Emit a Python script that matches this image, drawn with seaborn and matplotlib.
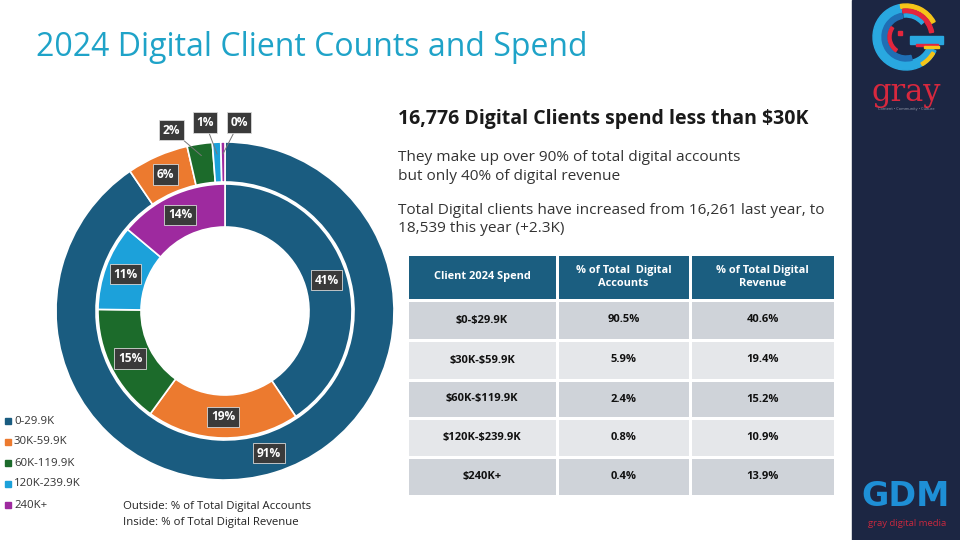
import math
import matplotlib
matplotlib.use("Agg")
import matplotlib.pyplot as plt
from matplotlib.patches import Rectangle, Wedge
from matplotlib.colors import ListedColormap
import seaborn as sns

# ---------------- data ----------------
categories = ["0-29.9K", "30K-59.9K", "60K-119.9K", "120K-239.9K", "240K+"]
spend_labels = ["$0-$29.9K", "$30K-$59.9K", "$60K-$119.9K", "$120K-$239.9K", "$240K+"]
accounts_pct = [90.5, 5.9, 2.4, 0.8, 0.4]
revenue_pct = [40.6, 19.4, 15.2, 10.9, 13.9]
table_headers = ["Client 2024 Spend", "% of Total  Digital\nAccounts", "% of Total Digital\nRevenue"]

title_text = "2024 Digital Client Counts and Spend"
heading_text = "16,776 Digital Clients spend less than $30K"
body_lines = ["They make up over 90% of total digital accounts",
              "but only 40% of digital revenue",
              "Total Digital clients have increased from 16,261 last year, to",
              "18,539 this year (+2.3K)"]
caption_lines = ["Outside: % of Total Digital Accounts", "Inside: % of Total Digital Revenue"]

colors = ["#1A5C80", "#EC7A2F", "#1C6B2B", "#1CA1DA", "#9E2A9F"]

sns.set_theme(style="white")
plt.rcParams['font.family'] = ['Open Sans', 'DejaVu Sans']
plt.rcParams['text.parse_math'] = False

W, H = 960, 540
fig = plt.figure(figsize=(9.6, 5.4), dpi=100)
fig.patch.set_facecolor("white")


def fx(px):
    return px / W


def fy(py):
    return 1 - py / H


def rnd(v):
    return f"{math.floor(v + 0.5)}%"


# ---------------- donut ----------------
cx, cy, R = 225, 311, 169
half = 235
ax = fig.add_axes([fx(cx - half), fy(cy + half), 2 * half / W, 2 * half / H])
ax.pie(accounts_pct, radius=1.0, colors=colors, startangle=90, counterclock=False,
       wedgeprops=dict(width=40 / R, edgecolor="white", linewidth=1.2))
ax.pie(revenue_pct, radius=127 / R, colors=colors, startangle=90, counterclock=False,
       wedgeprops=dict(width=43 / R, edgecolor="white", linewidth=1.2))
lim = half / R
ax.set_xlim(-lim, lim)
ax.set_ylim(-lim, lim)
ax.set_aspect("equal")
ax.axis("off")

box = dict(boxstyle="square,pad=0.3", fc="#3A3A3A", ec="#d8d8d8", lw=0.6)
lab_kw = dict(color="white", fontsize=8.6, fontweight="bold", ha="center", va="center",
              bbox=box, zorder=5)


def mids(vals):
    tot = sum(vals)
    out, cum = [], 0.0
    for v in vals:
        out.append(math.radians(90 - 360 * (cum + v / 2) / tot))
        cum += v
    return out


# inner ring labels
for v, a in zip(revenue_pct, mids(revenue_pct)):
    r = 106 / R
    ax.text(r * math.cos(a), r * math.sin(a), rnd(v), **lab_kw)

# outer ring labels (small slices get leader lines)
small_pos = {2: (-0.315, 1.07), 3: (-0.118, 1.115), 4: (0.083, 1.115)}
for i, (v, a) in enumerate(zip(accounts_pct, mids(accounts_pct))):
    if i in small_pos:
        ra = 0.93
        ax.annotate(rnd(v), xy=(ra * math.cos(a), ra * math.sin(a)), xytext=small_pos[i],
                    arrowprops=dict(arrowstyle="-", color="#777777", lw=0.7,
                                    shrinkA=0, shrinkB=0), **lab_kw)
    else:
        r = 149 / R
        ax.text(r * math.cos(a), r * math.sin(a), rnd(v), **lab_kw)

# legend
for i, (c, name) in enumerate(zip(colors, categories)):
    y = 421 + i * 21
    fig.patches.append(Rectangle((fx(5), fy(y + 3)), 6 / W, 6 / H, transform=fig.transFigure,
                                 color=c, figure=fig))
    fig.text(fx(14), fy(y), name, fontsize=8.2, color="#333333", va="center")

for i, line in enumerate(caption_lines):
    fig.text(fx(123), fy(507 + i * 15), line, fontsize=8.2, color="#222222", va="center")

# ---------------- texts ----------------
fig.text(fx(36), fy(48), title_text, color="#1FA3C8", fontsize=23, va="center")
fig.text(fx(398), fy(119), heading_text, color="#1A1A1A", fontsize=14,
         fontweight="bold", va="center")
for y, line in zip([158, 176, 210, 228], body_lines):
    fig.text(fx(398), fy(y), line, color="#333333", fontsize=11.1, va="center")

# ---------------- table ----------------
xe = [407, 557, 690, 835]
ye = [254, 300, 340, 380, 418, 457, 496]
tax = fig.add_axes([fx(xe[0]), fy(ye[-1]), (xe[-1] - xe[0]) / W, (ye[-1] - ye[0]) / H])
nrows = len(spend_labels) + 1
codes = [[0] * 3] + [[1 + (r % 2)] * 3 for r in range(len(spend_labels))]
tax.pcolormesh(xe, ye, codes, cmap=ListedColormap(["#1B5E80", "#CFD3D9", "#E5E7EA"]),
               vmin=-0.5, vmax=2.5, edgecolors="white", linewidth=2)
tax.set_xlim(xe[0], xe[-1])
tax.set_ylim(ye[-1], ye[0])
tax.axis("off")
cxs = [(xe[j] + xe[j + 1]) / 2 for j in range(3)]
cys = [(ye[k] + ye[k + 1]) / 2 for k in range(nrows)]
for j, h in enumerate(table_headers):
    tax.text(cxs[j], cys[0], h, color="white", fontsize=7.9, fontweight="bold",
             ha="center", va="center", linespacing=1.25)
for k in range(len(spend_labels)):
    row = [spend_labels[k], f"{accounts_pct[k]}%", f"{revenue_pct[k]}%"]
    for j, s in enumerate(row):
        tax.text(cxs[j], cys[k + 1], s, color="#111111", fontsize=8, fontweight="bold",
                 ha="center", va="center")

# ---------------- side panel ----------------
fig.patches.append(Rectangle((fx(852), 0), 1 - fx(852), 1, transform=fig.transFigure,
                             color="#1C2643", figure=fig, zorder=-1))
lax = fig.add_axes([fx(852), fy(130), 108 / W, 130 / H])
lax.set_xlim(852, 960)
lax.set_ylim(130, 0)
lax.set_aspect("equal")
lax.axis("off")
gx, gy = 906, 37
# (radius, width, visual start angle, visual end angle, colour)
for r, w, t1, t2, c in [(33, 9, 100, 335, "#29A8E0"), (33, 4, 28, 100, "#F5C518"),
                        (28, 4, 10, 97, "#E3263D"), (24, 5, 100, 285, "#1F6FB5"),
                        (18, 3, 145, 235, "#E3263D"), (23, 3, 40, 95, "#29A8E0"),
                        (33, 3, 300, 330, "#F5C518")]:
    lax.add_patch(Wedge((gx, gy), r, -t2, -t1, width=w, color=c))
lax.add_patch(Rectangle((gx + 4, gy - 1), 33, 8, color="#29A8E0"))
lax.add_patch(Rectangle((gx + 10, gy + 7), 22, 2, color="#E3263D"))
lax.add_patch(Rectangle((gx + 18, gy + 9), 15, 2, color="#F5C518"))
lax.add_patch(Rectangle((gx - 8, gy - 6), 4, 4, color="#E3263D"))
lax.text(gx, 92, "gray", color="#D7283E", fontsize=22, family="DejaVu Serif",
         ha="center", va="center")
lax.text(gx, 109, "Content • Community • Culture", color="#9aa0b0", fontsize=2.8,
         ha="center", va="center")
fig.text(fx(906), fy(497), "GDM", color="#1E8FD6", fontsize=24, fontweight="bold",
         ha="center", va="center", family="DejaVu Sans")
fig.text(fx(907), fy(523), "gray digital media", color="#C7283E", fontsize=6.8,
         ha="center", va="center")

fig.savefig("out.png", dpi=100)
